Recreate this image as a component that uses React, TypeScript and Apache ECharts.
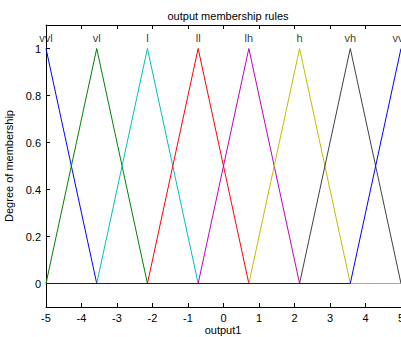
import React, { useEffect, useRef } from "react";
import * as echarts from "echarts";

const mfNames = ["vvl", "vl", "l", "ll", "lh", "h", "vh", "vvh"];
const mfPeaks = [-5, -3.571, -2.143, -0.714, 0.714, 2.143, 3.571, 5];
const mfColors = ["#0000ff", "#008000", "#00bfbf", "#ff0000", "#bf00bf", "#bfbf00", "#404040", "#0000ff"];

const vvl = [[-5, 1], [-3.571, 0], [5, 0]];
const vl = [[-5, 0], [-3.571, 1], [-2.143, 0], [5, 0]];
const l = [[-5, 0], [-3.571, 0], [-2.143, 1], [-0.714, 0], [5, 0]];
const ll = [[-5, 0], [-2.143, 0], [-0.714, 1], [0.714, 0], [5, 0]];
const lh = [[-5, 0], [-0.714, 0], [0.714, 1], [2.143, 0], [5, 0]];
const h = [[-5, 0], [0.714, 0], [2.143, 1], [3.571, 0], [5, 0]];
const vh = [[-5, 0], [2.143, 0], [3.571, 1], [5, 0]];
const vvh = [[-5, 0], [3.571, 0], [5, 1]];
const mfData = [vvl, vl, l, ll, lh, h, vh, vvh];

const yTicks = [0, 0.2, 0.4, 0.6, 0.8, 1];
const labelY = 1.045;

export default function App() {
  const ref = useRef<HTMLDivElement>(null);
  useEffect(() => {
    const chart = echarts.init(ref.current!, null, { renderer: "svg" });
    const font = "Liberation Sans, Arial, sans-serif";
    const lineSeries = mfData.map((d, i) => ({
      type: "line",
      name: mfNames[i],
      data: d,
      symbol: "none",
      lineStyle: { color: mfColors[i], width: 1 },
      itemStyle: { color: mfColors[i] },
      xAxisIndex: 0,
      yAxisIndex: 0,
      z: 2 + i,
    }));
    chart.setOption({
      animation: false,
      backgroundColor: "#ffffff",
      title: {
        text: "output membership rules",
        left: 223,
        top: 5,
        textAlign: "center",
        textStyle: { fontFamily: font, fontSize: 11, fontWeight: "normal", color: "#000" },
      },
      graphic: [
        {
          type: "text",
          x: 223,
          y: 330,
          style: {
            text: "output1",
            font: "11px Liberation Sans, Arial, sans-serif",
            fill: "#000",
            align: "center",
            verticalAlign: "middle",
          },
        },
      ],
      grid: { left: 46, right: 0, top: 25, bottom: 30, containLabel: false, outerBoundsMode: "none" },
      xAxis: [
        {
          type: "value",
          min: -5,
          max: 5,
          interval: 1,
          position: "bottom",
          axisLine: { show: true, onZero: false, lineStyle: { color: "#000", width: 1 } },
          axisTick: { show: true, inside: true, length: 4, lineStyle: { color: "#000" } },
          axisLabel: { fontFamily: font, fontSize: 11, color: "#000", margin: 5, hideOverlap: false },
          splitLine: { show: false },
        },
        {
          type: "value",
          min: -5,
          max: 5,
          interval: 1,
          position: "top",
          axisLine: { show: true, onZero: false, lineStyle: { color: "#000", width: 1 } },
          axisTick: { show: true, inside: true, length: 4, lineStyle: { color: "#000" } },
          axisLabel: { show: false },
          splitLine: { show: false },
        },
      ],
      yAxis: [
        {
          type: "value",
          min: -0.1,
          max: 1.1,
          position: "left",
          name: "Degree of membership",
          nameLocation: "middle",
          nameGap: 21,
          nameTextStyle: { fontFamily: font, fontSize: 11, color: "#000" },
          axisLine: { show: true, onZero: false, lineStyle: { color: "#000", width: 1 } },
          axisTick: { show: true, inside: true, length: 4, customValues: yTicks, lineStyle: { color: "#000" } },
          axisLabel: {
            fontFamily: font,
            fontSize: 11,
            color: "#000",
            margin: 5,
            customValues: yTicks,
            formatter: (v: number) => String(Math.round(v * 10) / 10),
          },
          splitLine: { show: false },
        },
      ],
      series: [
        ...lineSeries,
        {
          type: "scatter",
          symbolSize: 0,
          data: mfNames.map((n, i) => ({ name: n, value: [mfPeaks[i], labelY] })),
          label: {
            show: true,
            position: "inside",
            formatter: (p: any) => p.name,
            fontFamily: font,
            fontSize: 11,
            color: "#000",
          },
          z: 20,
        },
      ],
    });
    return () => chart.dispose();
  }, []);
  return (
    <div
      ref={ref}
      style={{ position: "fixed", left: 0, top: 0, width: 401, height: 337, background: "#fff" }}
    />
  );
}
